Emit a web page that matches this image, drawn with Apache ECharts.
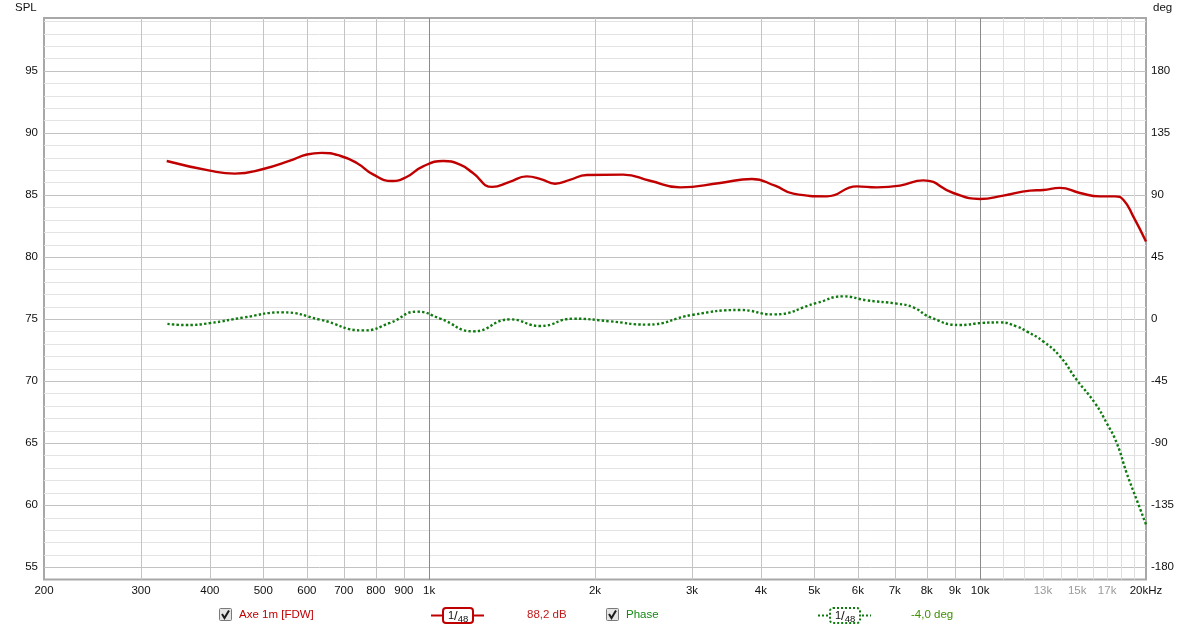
<!DOCTYPE html>
<html>
<head>
<meta charset="utf-8">
<script src="https://cdn.jsdelivr.net/npm/echarts@6/dist/echarts.min.js"></script>
<style>
html,body{margin:0;padding:0;background:#fff;}
#chart{width:1204px;height:630px;}
</style>
</head>
<body>
<div id="chart"></div>
<script>
// ---- data ----
const FREQ_SPL = [334, 400, 444, 500, 559, 600, 638, 689, 739, 791, 857, 910, 975, 1061, 1138, 1201, 1302, 1400, 1503, 1600, 1692, 1800, 1932, 2250, 2517, 2854, 3374, 3851, 4244, 4580, 5268, 5971, 6491, 7155, 7887, 8940, 9993, 11016, 12318, 13020, 13960, 15180, 16500, 17570, 18190, 18960, 20000];
const SPL = [87.73, 86.95, 86.71, 87.08, 87.75, 88.25, 88.38, 88.15, 87.57, 86.65, 86.12, 86.44, 87.30, 87.73, 87.43, 86.76, 85.64, 86.05, 86.49, 86.25, 85.90, 86.20, 86.60, 86.63, 86.14, 85.60, 85.96, 86.28, 85.74, 85.10, 84.88, 85.68, 85.60, 85.74, 86.17, 85.15, 84.67, 84.94, 85.34, 85.39, 85.56, 85.15, 84.88, 84.88, 84.61, 83.27, 81.25];
const FREQ_PH = [335, 363, 400, 460, 541, 634, 760, 849, 950, 1047, 1203, 1403, 1590, 1826, 2130, 2482, 3016, 3666, 4214, 5051, 5644, 6226, 7056, 7565, 8110, 9194, 10066, 10866, 11650, 12150, 13020, 13960, 14970, 16160, 16970, 17700, 18450, 19240, 20000];
const PHASE = [-3.6, -4.4, -3.0, 1.0, 4.8, -0.5, -8.3, -2.9, 5.3, 0.3, -9.0, -0.3, -5.1, 0.2, -1.7, -4.1, 3.1, 6.5, 3.3, 11.6, 16.4, 13.5, 11.1, 8.4, 1.3, -4.4, -2.9, -2.5, -5.4, -9.0, -16.3, -27.1, -44.1, -61.0, -75.5, -90.0, -111.8, -131.2, -149.0];
const X_LABELS = [200, 300, 400, 500, 600, 700, 800, 900, 1000, 2000, 3000, 4000, 5000, 6000, 7000, 8000, 9000, 10000, 13000, 15000, 17000, 20000];
const X_GRID = [300, 400, 500, 600, 700, 800, 900, 1000, 2000, 3000, 4000, 5000, 6000, 7000, 8000, 9000, 10000, 11000, 12000, 13000, 14000, 15000, 16000, 17000, 18000, 19000];
const Y_GRID = [55,56,57,58,59,60,61,62,63,64,65,66,67,68,69,70,71,72,73,74,75,76,77,78,79,80,81,82,83,84,85,86,87,88,89,90,91,92,93,94,95,96,97,98,99];
const SPL_MIN = 54, SPL_MAX = 99.25;
const DEG_MIN = -189, DEG_MAX = 218.25;

const FONT = 'Liberation Sans';
const chart = echarts.init(document.getElementById('chart'), null, {renderer: 'canvas'});

function xLabel(v) {
  if (v === 20000) return '20kHz';
  if (v >= 1000) {
    const s = (v / 1000) + 'k';
    if (v > 10000) return '{g|' + s + '}';
    return s;
  }
  return String(v);
}

function smoothingIcon(x, color, dash) {
  return [
    {type: 'line', shape: {x1: x - 12, y1: 615.5, x2: x + 41, y2: 615.5}, style: {stroke: color, lineWidth: 2, lineDash: dash}},
    {type: 'rect', shape: {x: x, y: 608, width: 30, height: 15, r: 3}, style: {fill: '#fff', stroke: color, lineWidth: 2, lineDash: dash}},
    {type: 'text', x: x + 5, y: 609, style: {text: '{a|1}{b|/}{c|48}', rich: {
      a: {font: '11px ' + FONT, fill: '#111', padding: [0, 0, 2, 0]},
      b: {font: '13px ' + FONT, fill: '#111'},
      c: {font: '9.5px ' + FONT, fill: '#111', padding: [5, 0, 0, 0]}}}}
  ];
}
function checkbox(x) {
  return [
    {type: 'rect', shape: {x: x + 0.5, y: 608.5, width: 12, height: 12, r: 1}, style: {fill: '#e4e4e4', stroke: '#7a7a7a', lineWidth: 1}},
    {type: 'polyline', shape: {points: [[x + 3, 614], [x + 5.5, 618], [x + 10, 610.5]]}, style: {stroke: '#1a1a1a', lineWidth: 2, fill: null}}
  ];
}

const option = {
  animation: false,
  backgroundColor: '#fff',
  grid: {left: 44, right: 58, top: 18, bottom: 50.4, show: true, borderColor: '#a8a8a8', borderWidth: 2, backgroundColor: '#fff'},
  xAxis: {
    type: 'log', logBase: 10, min: 200, max: 20000,
    axisLine: {show: false}, axisTick: {show: false}, splitLine: {show: false}, minorSplitLine: {show: false},
    axisLabel: {
      customValues: X_LABELS, margin: 5, fontFamily: FONT, fontSize: 11.5, color: '#111',
      formatter: xLabel, showMinLabel: true, showMaxLabel: true,
      rich: {g: {color: '#9a9a9a', fontFamily: FONT, fontSize: 11.5}}
    }
  },
  yAxis: [
    {
      type: 'value', min: SPL_MIN, max: SPL_MAX, interval: 1,
      axisLine: {show: false}, axisTick: {show: false}, splitLine: {show: false},
      axisLabel: {margin: 6, fontFamily: FONT, fontSize: 11.5, color: '#111',
        formatter: v => (Math.abs(v % 5) < 1e-9 ? String(v) : '')}
    },
    {
      type: 'value', min: DEG_MIN, max: DEG_MAX, interval: 9, position: 'right',
      axisLine: {show: false}, axisTick: {show: false}, splitLine: {show: false},
      axisLabel: {margin: 5, fontFamily: FONT, fontSize: 11.5, color: '#111',
        formatter: v => (Math.abs(v % 45) < 1e-9 && v >= -180 && v <= 180 ? String(v) : '')}
    }
  ],
  series: [
    {
      type: 'custom', name: 'hgrid', silent: true, z: 1, clip: false,
      data: Y_GRID.map(v => [200, v]),
      renderItem: function (params, api) {
        const v = api.value(1);
        const p1 = api.coord([200, v]);
        const p2 = api.coord([20000, v]);
        return {type: 'line', shape: {x1: p1[0], y1: Math.round(p1[1]) + 0.5, x2: p2[0], y2: Math.round(p2[1]) + 0.5},
          style: {stroke: v % 5 === 0 ? '#c2c2c2' : '#e3e3e3', lineWidth: 1}};
      }
    },
    {
      type: 'custom', name: 'vgrid', silent: true, z: 2, clip: false,
      data: X_GRID.map(f => [f, SPL_MIN]),
      renderItem: function (params, api) {
        const f = api.value(0);
        const p1 = api.coord([f, SPL_MIN]);
        const p2 = api.coord([f, SPL_MAX]);
        let c = '#c4c4c4';
        if (f === 1000 || f === 10000) c = '#8a8a8a';
        else if (f > 10000) c = '#dedede';
        return {type: 'line', shape: {x1: Math.round(p1[0]) + 0.5, y1: p1[1], x2: Math.round(p2[0]) + 0.5, y2: p2[1]},
          style: {stroke: c, lineWidth: 1}};
      }
    },
    {
      type: 'line', name: 'Phase', yAxisIndex: 1, z: 5, smooth: 0.5, showSymbol: false, silent: true,
      data: FREQ_PH.map((f, i) => [f, PHASE[i]]),
      lineStyle: {color: '#0f7a0f', width: 2.4, type: [2.4, 2.2], cap: 'butt'}
    },
    {
      type: 'line', name: 'Axe 1m [FDW]', yAxisIndex: 0, z: 6, smooth: 0.5, showSymbol: false, silent: true,
      data: FREQ_SPL.map((f, i) => [f, SPL[i]]),
      lineStyle: {color: '#c00000', width: 2.4}
    }
  ],
  graphic: [
    {type: 'text', left: 15, top: 2, style: {text: 'SPL', font: '11.5px ' + FONT, fill: '#111'}},
    {type: 'text', left: 1153, top: 2, style: {text: 'deg', font: '11.5px ' + FONT, fill: '#111'}},
    ...checkbox(219),
    {type: 'text', x: 239, y: 609, style: {text: 'Axe 1m [FDW]', font: '11.5px ' + FONT, fill: '#c00000'}},
    ...smoothingIcon(443, '#c00000', null),
    {type: 'text', x: 527, y: 609, style: {text: '88,2 dB', font: '11.5px ' + FONT, fill: '#c41a1a'}},
    ...checkbox(606),
    {type: 'text', x: 626, y: 609, style: {text: 'Phase', font: '11.5px ' + FONT, fill: '#138a13'}},
    ...smoothingIcon(830, '#0f7a0f', [2, 2]),
    {type: 'text', x: 911, y: 609, style: {text: '-4,0 deg', font: '11.5px ' + FONT, fill: '#3f9100'}}
  ]
};
chart.setOption(option);
</script>
</body>
</html>
